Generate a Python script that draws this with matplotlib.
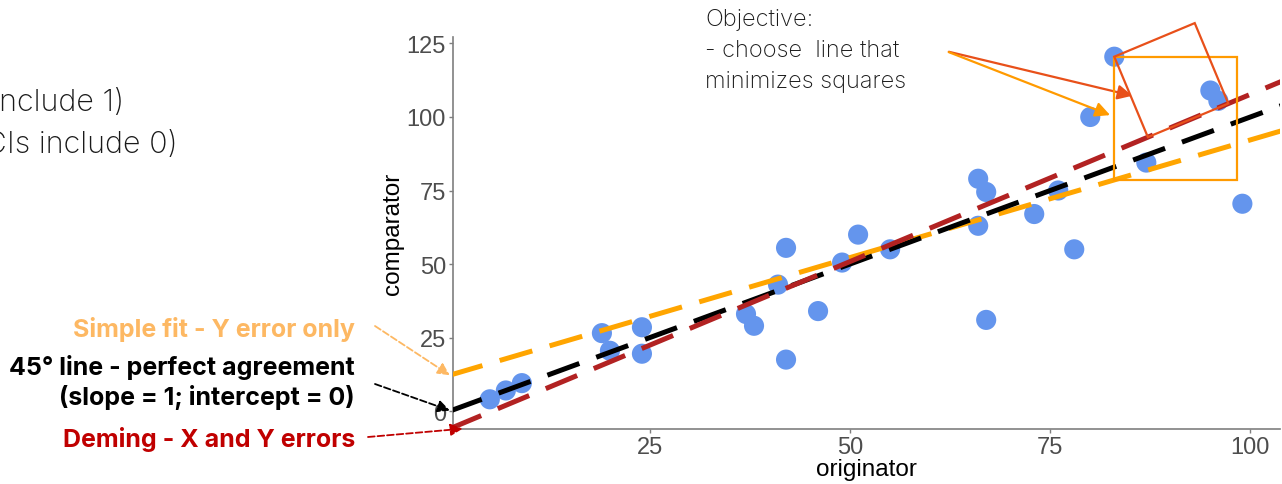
import numpy as np
import matplotlib
matplotlib.use("Agg")
import matplotlib.pyplot as plt
from matplotlib.patches import Polygon

# originator vs comparator measurements
originator = [5, 7, 9, 19, 20, 24, 24, 37, 38, 41, 42, 42, 46, 49, 51, 55,
              66, 66, 67, 67, 73, 76, 78, 80, 83, 87, 95, 96, 99]
comparator = [4, 7, 9.5, 26.5, 20.5, 28.5, 19.5, 33, 29, 43, 55.5, 17.5, 34, 50.5, 60, 55,
              79, 63, 74.5, 31, 67, 75, 55, 100, 120.5, 84.5, 109, 105.5, 70.5]

# fitted lines (intercept, slope)
ols_fit = (12.2, 0.80)      # simple fit - Y error only
ident_fit = (0.0, 1.0)      # 45 degree line
deming_fit = (-6.0, 1.137)  # Deming - X and Y errors

x_ticks = [25, 50, 75, 100]
y_ticks = [0, 25, 50, 75, 100, 125]

W, H = 1282, 485
fig = plt.figure(figsize=(W / 100, H / 100), dpi=100)
ax = fig.add_axes([453 / W, 55 / H, (1280 - 453) / W, (430 - 38) / H])

ax.scatter(originator, comparator, s=210, color="#6495ED", edgecolors="none", zorder=2)

xx = np.array([0, 104])
for (b, m), col in [(ols_fit, "#FFA500"), (ident_fit, "black"), (deming_fit, "#B22222")]:
    ax.plot(xx, b + m * xx, color=col, lw=3.6, dashes=(6.8, 3.6), zorder=3)

ax.set_xlim(0.4, 103.7)
ax.set_ylim(-6.1, 127.2)
ax.set_xticks(x_ticks)
ax.set_yticks(y_ticks)
for s in ["top", "right"]:
    ax.spines[s].set_visible(False)
for s in ["left", "bottom"]:
    ax.spines[s].set_color("#7f7f7f")
    ax.spines[s].set_linewidth(1.2)
ax.tick_params(colors="#7f7f7f", labelcolor="#4d4d4d", labelsize=17, length=3, width=1, pad=2)
for lab in ax.get_xticklabels() + ax.get_yticklabels():
    lab.set_family("Liberation Sans")
ax.set_xlabel("originator", fontsize=17.5, family="Liberation Sans", labelpad=0)
ax.set_ylabel("comparator", fontsize=17.5, family="Liberation Sans", labelpad=2)

# squares around the point at (83, 120.5), done in pixel space so they look square
fig.canvas.draw()
to_px = ax.transData.transform
to_data = ax.transData.inverted().transform
p = to_px((originator[24], comparator[24]))

b, m = ols_fit
f = to_px((originator[24], b + m * originator[24]))
side = p[1] - f[1]
sq = [p, p + [side, 0], f + [side, 0], f]
ax.add_patch(Polygon(to_data(np.array(sq)), closed=True, fill=False,
                     edgecolor="#FF9A00", lw=1.6, zorder=4, clip_on=False))

b, m = deming_fit
l0 = to_px((0, b))
l1 = to_px((100, b + m * 100))
u = (l1 - l0) / np.linalg.norm(l1 - l0)
f = l0 + np.dot(p - l0, u) * u
side = np.linalg.norm(p - f)
sq = [p, f, f + side * u, p + side * u]
ax.add_patch(Polygon(to_data(np.array(sq)), closed=True, fill=False,
                     edgecolor="#E8501A", lw=1.6, zorder=4, clip_on=False))

# objective note and arrows
fig.text(705 / W, 1 - 9 / H, "Objective:\n- choose  line that\nminimizes squares",
         fontsize=17, family="Inter", fontweight="light", color="#1a1a1a",
         va="top", ha="left", linespacing=1.52)
ax.annotate("", xy=(85.6, 107.0), xytext=(62.0, 122.4), annotation_clip=False,
            arrowprops=dict(arrowstyle="-|>", color="#E8501A", lw=1.6, mutation_scale=22))
ax.annotate("", xy=(82.8, 100.3), xytext=(62.0, 122.4), annotation_clip=False,
            arrowprops=dict(arrowstyle="-|>", color="#FF9A00", lw=1.6, mutation_scale=22))

# text cut off on the left edge
fig.text(124 / W, 1 - 102 / H, "- slope = 1 (CIs include 1)", fontsize=22, family="Inter",
         fontweight="light", color="#1a1a1a", ha="right", va="center")
fig.text(178 / W, 1 - 144 / H, "- intercept = 0 (CIs include 0)", fontsize=22, family="Inter",
         fontweight="light", color="#1a1a1a", ha="right", va="center")

# line labels with dashed arrows
labels = [("Simple fit - Y error only", 329, "#FDB863", (375, 327), (0.0, 12.2)),
          ("45° line - perfect agreement\n(slope = 1; intercept = 0)", 383, "black", (375, 385), (0.0, 0.2)),
          ("Deming - X and Y errors", 440, "#C00000", (368, 438), (1.6, -6.0))]
for txt, ty, col, start, tip in labels:
    fig.text(355 / W, 1 - ty / H, txt, fontsize=18, family="Inter", fontweight="bold",
             color=col, ha="right", va="center", linespacing=1.25)
    ax.annotate("", xy=tip, xytext=(start[0], H - start[1]), textcoords="figure pixels",
                annotation_clip=False,
                arrowprops=dict(arrowstyle="-|>", color=col, lw=1.3, linestyle="--",
                                mutation_scale=18, shrinkA=0, shrinkB=0))

fig.savefig("out.png", dpi=100)
